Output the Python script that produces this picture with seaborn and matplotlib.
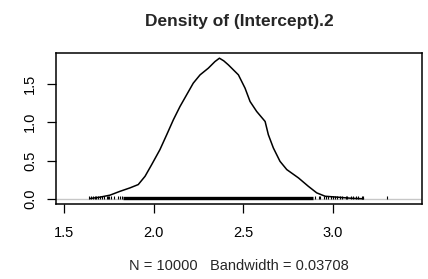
import matplotlib
matplotlib.use("Agg")
import matplotlib.pyplot as plt
import pandas as pd
import seaborn as sns

# density curve
dens_x = [1.643, 1.699, 1.755, 1.811, 1.867, 1.913, 1.951, 1.988, 2.034, 2.072,
          2.109, 2.146, 2.183, 2.220, 2.258, 2.304, 2.341, 2.366, 2.390, 2.416,
          2.472, 2.509, 2.537, 2.574, 2.621, 2.639, 2.667, 2.704, 2.742, 2.807,
          2.862, 2.909, 2.956, 3.030, 3.100, 3.170]
dens_y = [0.006, 0.024, 0.050, 0.100, 0.145, 0.188, 0.296, 0.448, 0.643, 0.838,
          1.032, 1.205, 1.357, 1.509, 1.617, 1.704, 1.790, 1.834, 1.800, 1.747,
          1.617, 1.444, 1.270, 1.140, 1.010, 0.838, 0.665, 0.491, 0.383, 0.275,
          0.166, 0.080, 0.036, 0.023, 0.010, 0.003]

# observations shown as short ticks (sparse tails) and the solid middle span
rug_tails = [1.64, 1.65, 1.66, 1.67, 1.68, 1.69, 1.70, 1.71, 1.72, 1.74, 1.745,
             1.75, 1.76, 1.78, 1.80, 1.81, 1.82,
             2.90, 2.92, 2.93, 2.95, 2.96, 2.97, 2.99, 3.00, 3.01, 3.02, 3.04,
             3.05, 3.07, 3.08, 3.10, 3.11, 3.13, 3.14, 3.16, 3.17, 3.30]
rug_dense = (1.83, 2.89)

title = "Density of (Intercept).2"
xlabel = "N = 10000   Bandwidth = 0.03708"
xticks = [1.5, 2.0, 2.5, 3.0]
yticks = [0.0, 0.5, 1.0, 1.5]

sns.set_style("ticks")
plt.rcParams["font.family"] = ["Liberation Sans", "DejaVu Sans"]

df = pd.DataFrame({"x": dens_x, "y": dens_y})

fig = plt.figure(figsize=(4.28, 2.79), dpi=100)
ax = fig.add_axes([0.130, 0.268, 0.857, 0.541])

ax.axhline(0, color="0.78", lw=1, zorder=1)
rug_h = max(dens_y) / 100
ax.vlines(rug_tails, 0, rug_h * 2, color="black", lw=0.8, zorder=2)
ax.hlines(rug_h, rug_dense[0], rug_dense[1], color="black", lw=2.4, zorder=2)
sns.lineplot(data=df, x="x", y="y", color="black", lw=1.1, ax=ax, zorder=3)

ax.set_xlim(1.452, 3.499)
ax.set_ylim(-0.068, 1.898)
ax.set_xticks(xticks)
ax.set_xticklabels([f"{t:.1f}" for t in xticks], fontsize=10.5)
ax.set_yticks(yticks)
ax.set_yticklabels([f"{t:.1f}" for t in yticks], fontsize=10.5, rotation=90, va="center")
ax.tick_params(direction="out", length=6.5, width=0.9, colors="black")
ax.tick_params(axis="x", pad=9)
ax.tick_params(axis="y", pad=7)
for s in ax.spines.values():
    s.set_linewidth(1.1)
    s.set_color("black")

ax.set_xlabel(xlabel, fontsize=10.5, labelpad=14)
ax.set_ylabel("")
ax.set_title(title, fontsize=12.5, fontweight="bold", pad=20)

fig.savefig("out.png", dpi=100)
